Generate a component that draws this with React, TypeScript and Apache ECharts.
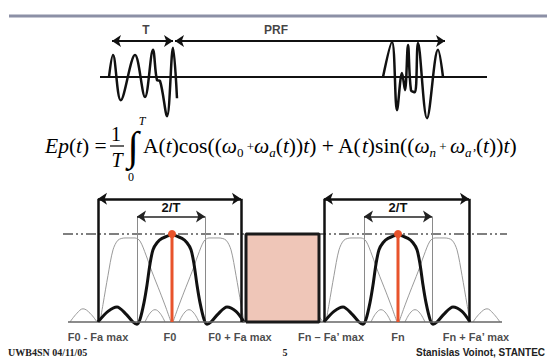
import React, { useEffect, useRef } from 'react';
import * as echarts from 'echarts';

// ---------- time domain (top) ----------
const burst1 = [[19, 0], [23, 0.55], [30.7, -0.58], [45, 0.55], [55, -0.5], [63, 0.68], [67, -0.08], [70, -0.1], [77, -0.98], [83, 0.73], [87, -0.53]];
const burst2 = [[293, 0], [302, 0.875], [307, -0.83], [312, 0.1], [315, -0.33], [318, 0.8], [321, -0.33], [325, -0.38], [328, 0.85], [337, -1.03], [348, 0.68], [353, 0]];
const timeBaseline = [[10, 0], [397, 0]];
const periodT = [22, 83];
const periodPRF = [85, 355];
const timeArrowLevel = 0.9;
const timeLabels = [{ name: 'T', value: [56, 1.18] }, { name: 'PRF', value: [186, 1.18] }];

// ---------- frequency domain (bottom) ----------
const carriers = [112, 338];
const bandEdges = [[38, 181], [264, 409]];
const slotEdges = [[77, 145], [304, 372]];
const guardBand = [186, 259];
const refLevel = 1.0;
const refLine = [3, 447];
const bandArrowLevel = 1.4;
const slotArrowLevel = 1.2;
const freqBaseline = [8, 442];
const blackProfile = [
  [-74, 0], [-64, 0.12], [-55, 0.17], [-46, 0.09], [-39, 0], [-35, -0.025], [-32, 0.03], [-28, 0.22], [-25, 0.42], [-22, 0.66], [-19, 0.82], [-15, 0.9], [-10, 0.95], [0, 0.99],
  [10, 0.95], [15, 0.9], [19, 0.82], [22, 0.66], [25, 0.42], [28, 0.22], [32, 0.03], [35, -0.025], [39, 0], [46, 0.09], [55, 0.17], [64, 0.12], [72, 0],
];
const grayMain = [[-72, 0], [-69, 0.2], [-64, 0.53], [-59, 0.82], [-54, 0.93], [-47, 0.955], [-37, 0.955], [-32, 0.92], [-26, 0.76], [-20, 0.57], [-12, 0.34], [-6, 0.16], [-1, 0]];
const grayOuter = [[-102, 0], [-95, 0.1], [-89, 0.15], [-82, 0.1], [-75, 0]];
const grayInner = [[-27, 0], [-22, 0.1], [-17, 0.14], [-12, 0.1], [-7, 0]];
const freqLabels = [
  { name: 'F0 - Fa max', x: 38 },
  { name: 'F0', x: 110 },
  { name: 'F0 + Fa max', x: 180 },
  { name: 'Fn \u2013 Fa\u2019 max', x: 271 },
  { name: 'Fn', x: 338 },
  { name: 'Fn + Fa\u2019 max', x: 416 },
];

const SERIF = 'Liberation Serif';
const SANS = 'Liberation Sans';

function shift(profile: number[][], c: number, mirror = false) {
  return profile.map(([d, v]) => [c + (mirror ? -d : d), v]);
}

function lineSeries(grid: number, data: number[][], color: string, width: number, z: number, smooth: number | boolean = 0.3, extra: any = {}) {
  return {
    type: 'line', xAxisIndex: grid, yAxisIndex: grid, data, showSymbol: false, symbol: 'none', smooth,
    lineStyle: { color, width }, z, silent: true, clip: false, ...extra,
  };
}

function markLines(grid: number, lines: any[], style: any, symbol: any, z: number, label: any = { show: false }) {
  return {
    type: 'line', xAxisIndex: grid, yAxisIndex: grid, data: [lines[0][0].coord], symbol: 'none', showSymbol: false,
    lineStyle: { width: 0 }, z, silent: true,
    markLine: { silent: true, symbol, symbolSize: 9, lineStyle: style, label, data: lines, z, emphasis: { disabled: true } },
  };
}

function buildOption() {
  const series: any[] = [];
  // top time domain
  series.push(lineSeries(0, timeBaseline, '#111', 2, 2, false));
  series.push(lineSeries(0, burst1, '#111', 2.5, 3, 0.35));
  series.push(lineSeries(0, burst2, '#111', 2.5, 3, 0.35));
  series.push(markLines(0, [
    [{ coord: [periodT[0], timeArrowLevel] }, { coord: [periodT[1], timeArrowLevel] }],
    [{ coord: [periodPRF[0], timeArrowLevel] }, { coord: [periodPRF[1], timeArrowLevel] }],
  ], { color: '#111', width: 2, type: 'solid' }, ['arrow', 'arrow'], 5));
  series.push({
    type: 'scatter', xAxisIndex: 0, yAxisIndex: 0, data: timeLabels, symbolSize: 0, silent: true, clip: false,
    label: { show: true, position: 'inside', formatter: '{b}', fontFamily: SANS, fontWeight: 'bold', fontSize: 12, color: '#111' },
  });

  // bottom frequency domain
  carriers.forEach((c) => {
    series.push(lineSeries(1, shift(grayMain, c), '#9a9a9a', 1, 2, 0.3));
    series.push(lineSeries(1, shift(grayMain, c, true), '#9a9a9a', 1, 2, 0.3));
    series.push(lineSeries(1, shift(grayOuter, c), '#9a9a9a', 1, 2, 0.4));
    series.push(lineSeries(1, shift(grayOuter, c, true), '#9a9a9a', 1, 2, 0.4));
    series.push(lineSeries(1, shift(grayInner, c), '#9a9a9a', 1, 2, 0.4));
    series.push(lineSeries(1, shift(grayInner, c, true), '#9a9a9a', 1, 2, 0.4));
  });
  // reference dash-dot level
  series.push(markLines(1, [[{ coord: [refLine[0], refLevel] }, { coord: [refLine[1], refLevel] }]],
    { color: '#555', width: 1.5, type: [10, 3, 2, 3, 2, 3] }, ['none', 'none'], 2));
  // 2/T thin verticals
  const slotVert: any[] = [];
  slotEdges.forEach(([a, b]) => {
    slotVert.push([{ coord: [a, 0] }, { coord: [a, slotArrowLevel] }]);
    slotVert.push([{ coord: [b, 0] }, { coord: [b, slotArrowLevel] }]);
  });
  series.push(markLines(1, slotVert, { color: '#8a8a8a', width: 1, type: 'solid' }, ['none', 'none'], 2));
  // black spectra
  carriers.forEach((c) => series.push(lineSeries(1, shift(blackProfile, c), '#111', 3, 3, 0.3)));
  // baseline
  series.push(lineSeries(1, [[freqBaseline[0], 0], [freqBaseline[1], 0]], '#666', 1.5, 3, false));
  // guard band box
  series.push(lineSeries(1, [[guardBand[0], 0], [guardBand[0], refLevel], [guardBand[1], refLevel], [guardBand[1], 0], [guardBand[0], 0]],
    '#1a1a1a', 3, 6, false, { areaStyle: { color: '#efc6b8', opacity: 1, origin: 0 } }));
  // band boxes
  const boxVert: any[] = [];
  bandEdges.forEach(([a, b]) => {
    boxVert.push([{ coord: [a, 0] }, { coord: [a, bandArrowLevel] }]);
    boxVert.push([{ coord: [b, 0] }, { coord: [b, bandArrowLevel] }]);
  });
  series.push(markLines(1, boxVert, { color: '#111', width: 2.5, type: 'solid' }, ['none', 'none'], 5));
  series.push(markLines(1, bandEdges.map(([a, b]) => [{ coord: [a, bandArrowLevel] }, { coord: [b, bandArrowLevel] }]),
    { color: '#111', width: 2.5, type: 'solid' }, ['arrow', 'arrow'], 5));
  series.push(markLines(1, slotEdges.map(([a, b]) => [{ coord: [a, slotArrowLevel] }, { coord: [b, slotArrowLevel] }]),
    { color: '#222', width: 1.5, type: 'solid' }, ['arrow', 'arrow'], 5,
    { show: true, position: 'insideMiddleTop', formatter: '2/T', fontFamily: SANS, fontWeight: 'bold', fontSize: 13, color: '#111', distance: 2 }));
  // carriers (red)
  carriers.forEach((c) => {
    series.push({
      type: 'line', xAxisIndex: 1, yAxisIndex: 1, silent: true, z: 7, showSymbol: true,
      data: [{ value: [c, 0], symbol: 'none' }, { value: [c, refLevel], symbol: 'circle', symbolSize: 8 }],
      lineStyle: { color: '#e8532b', width: 3 }, itemStyle: { color: '#e8532b' },
    });
  });
  // frequency labels
  series.push({
    type: 'scatter', xAxisIndex: 1, yAxisIndex: 1, symbolSize: 0, silent: true, clip: false,
    data: freqLabels.map((l) => ({ name: l.name, value: [l.x, 0] })),
    label: { show: true, position: 'bottom', distance: 9, formatter: '{b}', fontFamily: SANS, fontWeight: 'bold', fontSize: 11, color: '#1a1a1a' },
  });

  const eqRich = {
    n: { fontFamily: SERIF, fontSize: 21.5, lineHeight: 26, verticalAlign: 'middle', fill: '#000' },
    i: { fontFamily: SERIF, fontSize: 21.5, fontStyle: 'italic', lineHeight: 26, verticalAlign: 'middle', fill: '#000' },
    s: { fontFamily: SERIF, fontSize: 13, fontStyle: 'italic', lineHeight: 13, verticalAlign: 'bottom', fill: '#000' },
    u: { fontFamily: SERIF, fontSize: 13, lineHeight: 13, verticalAlign: 'bottom', fill: '#000' },
    p: { fontFamily: SERIF, fontSize: 13, lineHeight: 26, verticalAlign: 'middle', fill: '#000' },
  };

  return {
    animation: false,
    backgroundColor: '#fff',
    grid: [
      { left: 90, top: 29, width: 400, height: 96 },
      { left: 60, top: 190, width: 450, height: 140.8 },
    ],
    xAxis: [
      { type: 'value', gridIndex: 0, min: 0, max: 400, show: false },
      { type: 'value', gridIndex: 1, min: 0, max: 450, show: false },
    ],
    yAxis: [
      { type: 'value', gridIndex: 0, min: -1.2, max: 1.2, show: false },
      { type: 'value', gridIndex: 1, min: -0.1, max: 1.5, show: false },
    ],
    series,
    graphic: [
      { type: 'line', shape: { x1: 9, y1: 16, x2: 547, y2: 16 }, style: { stroke: '#8c90a6', lineWidth: 3 }, silent: true },
      {
        type: 'text', x: 45, y: 146, silent: true,
        style: { text: '{i|Ep}{n|(}{i|t}{n|) =}', rich: eqRich, verticalAlign: 'middle', align: 'left' },
      },
      { type: 'text', x: 116, y: 134, silent: true, style: { text: '1', fontFamily: SERIF, fontSize: 20, fill: '#000', align: 'center', verticalAlign: 'middle' } },
      { type: 'line', shape: { x1: 110, y1: 146, x2: 124, y2: 146 }, style: { stroke: '#000', lineWidth: 1.2 }, silent: true },
      { type: 'text', x: 117, y: 160, silent: true, style: { text: 'T', fontFamily: SERIF, fontStyle: 'italic', fontSize: 20, fill: '#000', align: 'center', verticalAlign: 'middle' } },
      { type: 'text', x: 133, y: 146, silent: true, style: { text: '\u222B', fontFamily: SERIF, fontSize: 41, fill: '#000', align: 'center', verticalAlign: 'middle' } },
      { type: 'text', x: 142, y: 121, silent: true, style: { text: 'T', fontFamily: SERIF, fontStyle: 'italic', fontSize: 12, fill: '#000', align: 'center', verticalAlign: 'middle' } },
      { type: 'text', x: 131, y: 177, silent: true, style: { text: '0', fontFamily: SERIF, fontSize: 12, fill: '#000', align: 'center', verticalAlign: 'middle' } },
      {
        type: 'text', x: 143, y: 146, silent: true,
        style: {
          text: '{n|A(}{i|t}{n|)cos((}{i|\u03C9}{u|0}{p| +}{i|\u03C9}{s|a}{n|(}{i|t}{n|))}{i|t}{n|) + A(}{i|t}{n|)sin((}{i|\u03C9}{s|n}{p| + }{i|\u03C9}{s|a\u2019}{n|(}{i|t}{n|))}{i|t}{n|)}',
          rich: eqRich, verticalAlign: 'middle', align: 'left',
        },
      },
      { type: 'text', x: 8, y: 352, silent: true, style: { text: 'UWB4SN 04/11/05', fontFamily: SERIF, fontWeight: 'bold', fontSize: 10, fill: '#222', verticalAlign: 'middle' } },
      { type: 'text', x: 285, y: 352, silent: true, style: { text: '5', fontFamily: SERIF, fontWeight: 'bold', fontSize: 10, fill: '#222', verticalAlign: 'middle', align: 'center' } },
      { type: 'text', x: 416, y: 352, silent: true, style: { text: 'Stanislas Voinot, STANTEC', fontFamily: SANS, fontWeight: 'bold', fontSize: 10, fill: '#222', verticalAlign: 'middle' } },
    ],
  };
}

export default function App() {
  const ref = useRef<HTMLDivElement>(null);
  useEffect(() => {
    document.body.style.margin = '0';
    const chart = echarts.init(ref.current!, null, { renderer: 'svg' });
    chart.setOption(buildOption() as any);
    return () => chart.dispose();
  }, []);
  return <div ref={ref} style={{ position: 'fixed', left: 0, top: 0, width: 547, height: 363, background: '#fff' }} />;
}
